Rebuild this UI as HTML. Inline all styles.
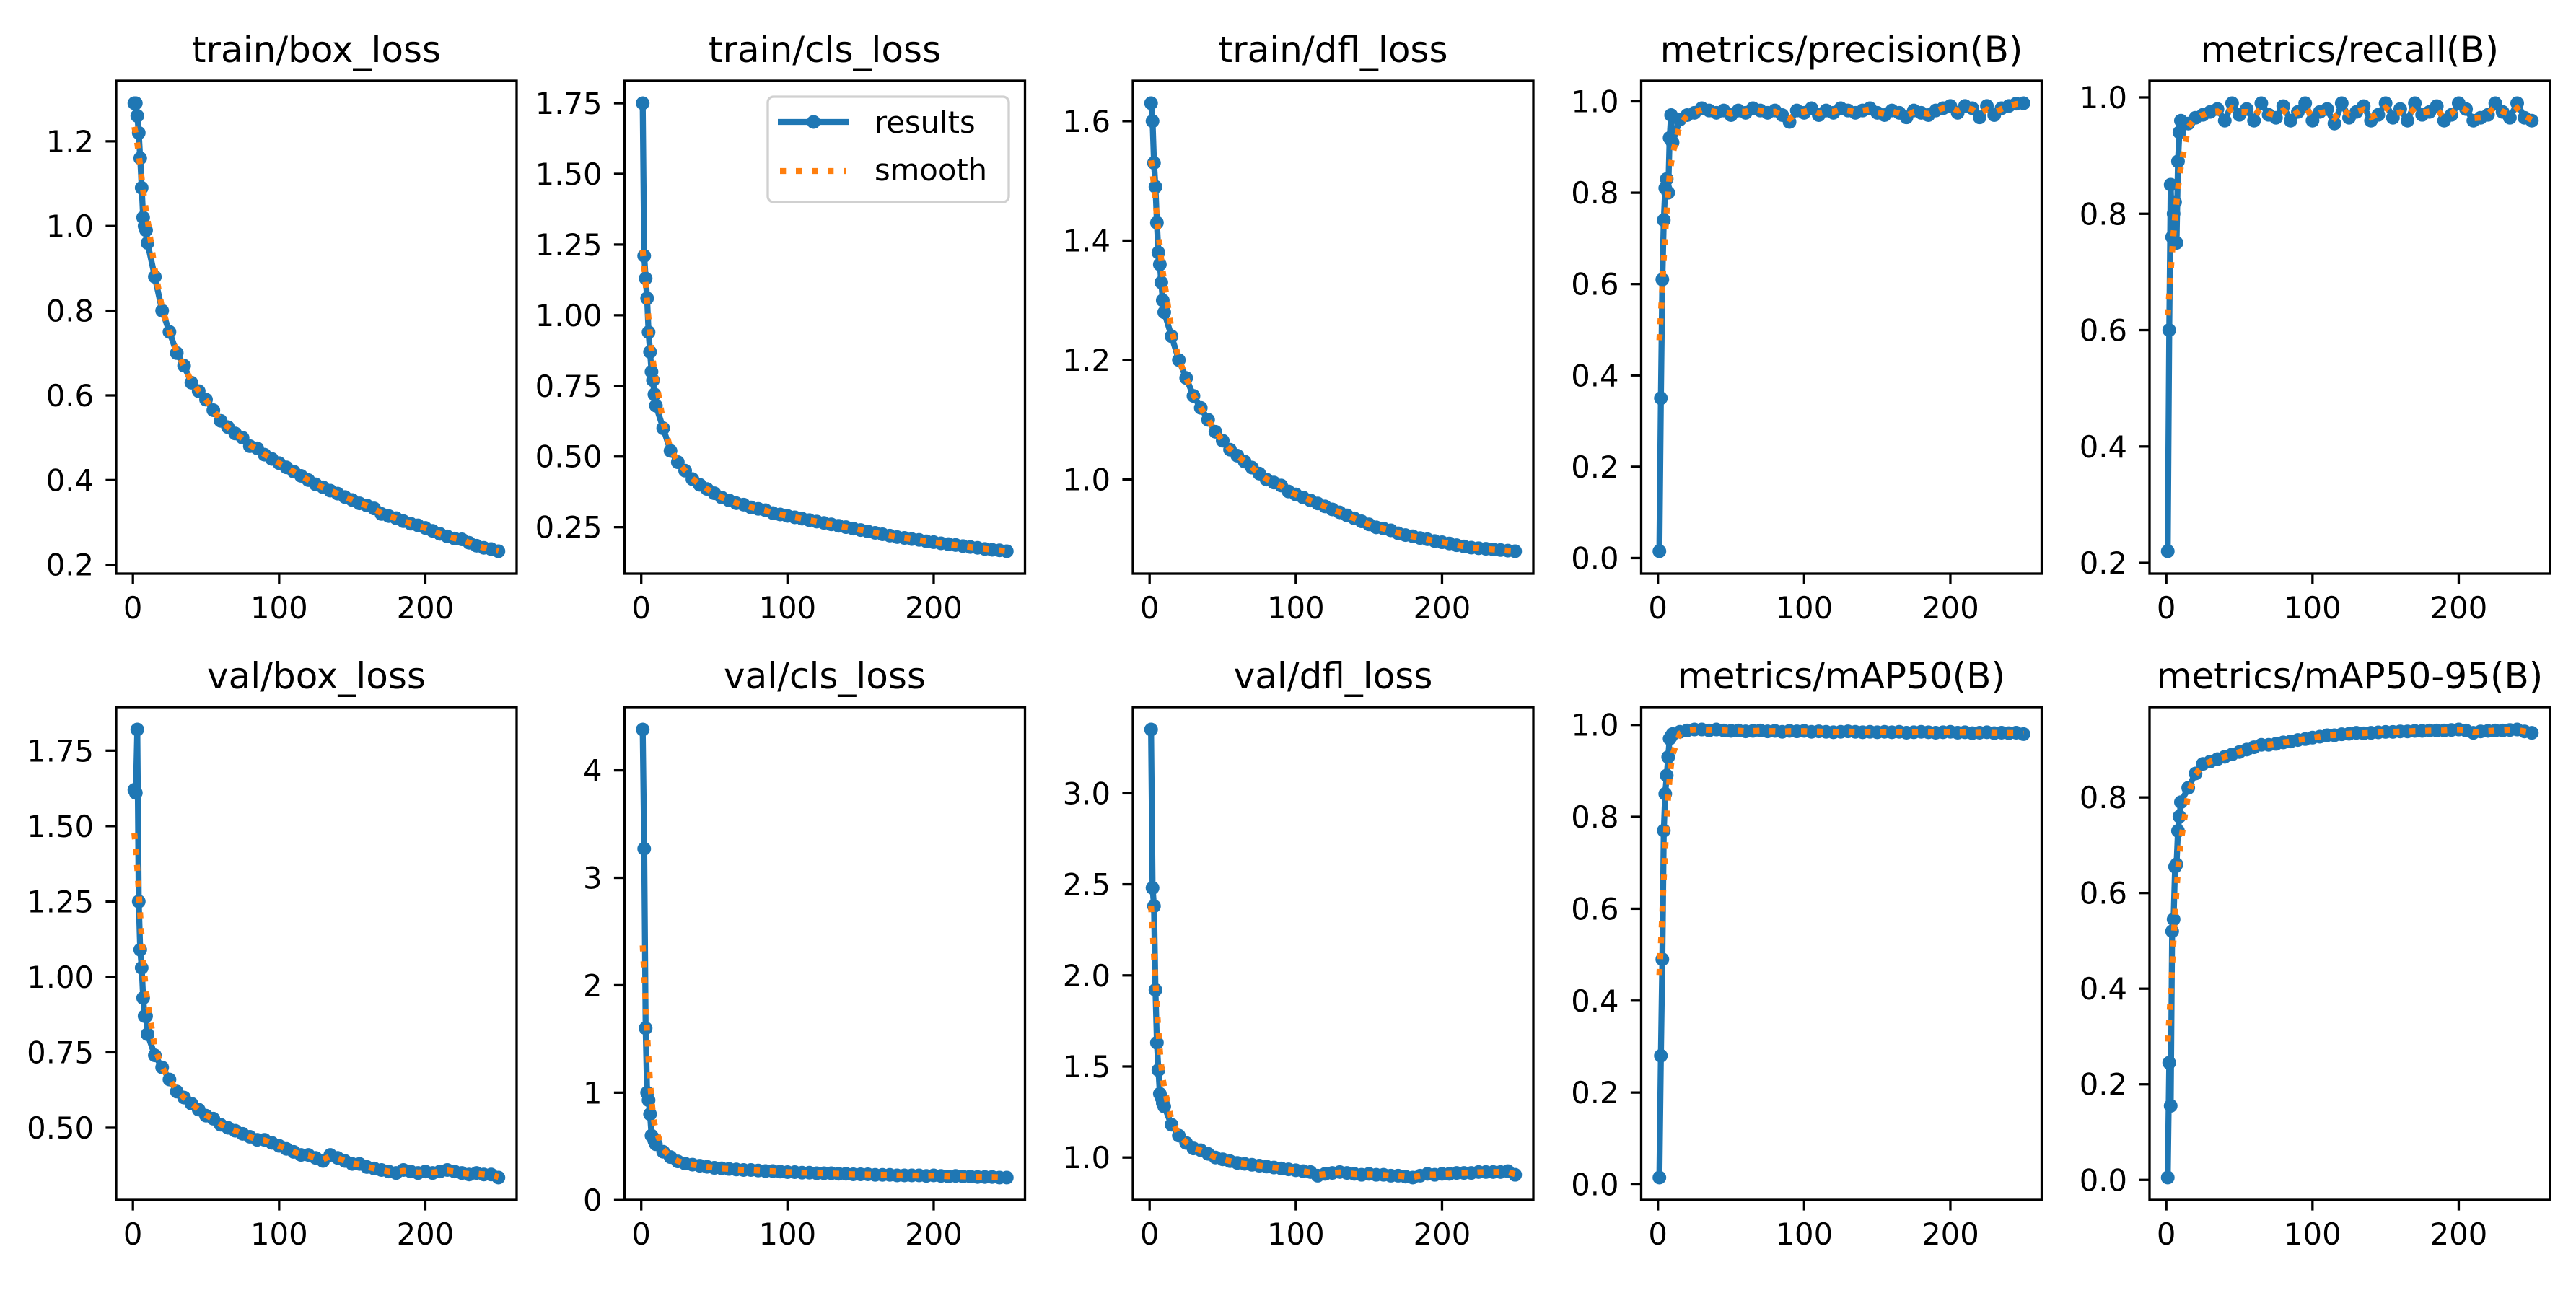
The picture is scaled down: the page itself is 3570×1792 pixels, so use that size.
<!DOCTYPE html>
<html><head><meta charset="utf-8"><style>
html,body{margin:0;padding:0;background:#fff;}
svg{display:block;}
text{font-family:"DejaVu Sans","Liberation Sans",sans-serif;fill:#000;}
</style></head><body>
<svg id="fig" width="3570" height="1792" viewBox="0 0 3570 1792" xmlns="http://www.w3.org/2000/svg"></svg>
<script>
const epochs = [1,2,3,4,5,6,7,8,9,10,15,20,25,30,35,40,45,50,55,60,65,70,75,80,85,90,95,100,105,110,115,120,125,130,135,140,145,150,155,160,165,170,175,180,185,190,195,200,205,210,215,220,225,230,235,240,245,250];
const titles = ["train/box_loss","train/cls_loss","train/dfl_loss","metrics/precision(B)","metrics/recall(B)","val/box_loss","val/cls_loss","val/dfl_loss","metrics/mAP50(B)","metrics/mAP50-95(B)"];
const trainBox = [1.29,1.29,1.26,1.22,1.16,1.09,1.02,1.0,0.99,0.96,0.88,0.80,0.75,0.70,0.67,0.63,0.61,0.59,0.565,0.54,0.525,0.51,0.50,0.48,0.475,0.46,0.45,0.44,0.43,0.42,0.41,0.40,0.39,0.383,0.375,0.368,0.36,0.353,0.345,0.34,0.333,0.32,0.315,0.31,0.303,0.297,0.293,0.287,0.28,0.273,0.267,0.262,0.26,0.252,0.245,0.24,0.237,0.232];
const trainCls = [1.75,1.21,1.13,1.06,0.94,0.87,0.80,0.77,0.72,0.68,0.60,0.52,0.48,0.45,0.42,0.40,0.385,0.37,0.355,0.345,0.335,0.33,0.32,0.315,0.31,0.30,0.295,0.29,0.285,0.28,0.275,0.27,0.265,0.26,0.255,0.25,0.245,0.24,0.235,0.23,0.225,0.22,0.215,0.212,0.208,0.205,0.20,0.197,0.193,0.19,0.187,0.183,0.18,0.177,0.173,0.17,0.168,0.165];
const trainDfl = [1.63,1.60,1.53,1.49,1.43,1.38,1.36,1.33,1.30,1.28,1.24,1.20,1.17,1.14,1.12,1.10,1.08,1.065,1.05,1.04,1.03,1.02,1.01,1.0,0.995,0.99,0.98,0.975,0.97,0.965,0.96,0.955,0.95,0.945,0.94,0.935,0.93,0.925,0.92,0.918,0.915,0.91,0.907,0.905,0.902,0.90,0.897,0.895,0.893,0.89,0.888,0.886,0.885,0.884,0.883,0.882,0.881,0.88];
const precision = [0.015,0.35,0.61,0.74,0.81,0.83,0.80,0.92,0.97,0.91,0.96,0.97,0.975,0.985,0.98,0.975,0.98,0.97,0.98,0.975,0.985,0.98,0.975,0.98,0.97,0.955,0.98,0.975,0.985,0.97,0.98,0.975,0.985,0.98,0.975,0.98,0.985,0.975,0.97,0.98,0.975,0.965,0.98,0.975,0.97,0.98,0.985,0.99,0.975,0.99,0.985,0.965,0.99,0.97,0.985,0.99,0.995,0.996];
const recall = [0.22,0.60,0.85,0.76,0.80,0.82,0.75,0.89,0.94,0.96,0.955,0.965,0.97,0.975,0.98,0.96,0.99,0.97,0.98,0.96,0.99,0.97,0.965,0.985,0.96,0.975,0.99,0.96,0.975,0.98,0.955,0.99,0.965,0.975,0.985,0.96,0.97,0.99,0.965,0.98,0.96,0.99,0.97,0.975,0.985,0.96,0.97,0.99,0.98,0.96,0.965,0.97,0.99,0.975,0.965,0.99,0.965,0.96];
const valBox = [1.62,1.61,1.82,1.25,1.09,1.03,0.93,0.87,0.87,0.81,0.74,0.70,0.66,0.62,0.60,0.58,0.56,0.54,0.53,0.51,0.50,0.49,0.48,0.47,0.46,0.46,0.45,0.44,0.43,0.42,0.41,0.41,0.40,0.39,0.41,0.40,0.39,0.38,0.38,0.37,0.365,0.36,0.355,0.35,0.36,0.355,0.35,0.355,0.35,0.355,0.36,0.355,0.35,0.345,0.35,0.345,0.345,0.335];
const valCls = [4.38,3.27,1.60,1.0,0.93,0.80,0.60,0.58,0.55,0.52,0.45,0.40,0.36,0.34,0.33,0.32,0.31,0.30,0.295,0.29,0.285,0.28,0.28,0.275,0.27,0.27,0.265,0.26,0.26,0.255,0.255,0.25,0.25,0.25,0.245,0.245,0.24,0.24,0.24,0.235,0.235,0.235,0.23,0.23,0.23,0.23,0.225,0.23,0.225,0.22,0.225,0.22,0.22,0.215,0.215,0.215,0.21,0.21];
const valDfl = [3.35,2.48,2.38,1.92,1.63,1.48,1.35,1.33,1.30,1.28,1.18,1.12,1.08,1.05,1.04,1.02,1.0,0.99,0.98,0.97,0.965,0.96,0.955,0.95,0.945,0.94,0.935,0.93,0.925,0.92,0.90,0.91,0.915,0.92,0.915,0.91,0.905,0.91,0.905,0.905,0.90,0.90,0.895,0.89,0.90,0.91,0.905,0.91,0.91,0.915,0.915,0.915,0.92,0.92,0.92,0.92,0.925,0.905];
const map50 = [0.015,0.28,0.49,0.77,0.85,0.89,0.93,0.97,0.975,0.98,0.985,0.988,0.99,0.99,0.988,0.99,0.988,0.987,0.988,0.986,0.987,0.988,0.986,0.987,0.985,0.987,0.986,0.987,0.985,0.986,0.985,0.984,0.985,0.986,0.985,0.984,0.985,0.984,0.985,0.984,0.985,0.983,0.984,0.985,0.984,0.983,0.984,0.985,0.983,0.984,0.982,0.983,0.984,0.982,0.983,0.982,0.983,0.98];
const map5095 = [0.005,0.245,0.155,0.52,0.545,0.655,0.66,0.73,0.76,0.79,0.82,0.85,0.87,0.875,0.88,0.885,0.89,0.895,0.90,0.905,0.91,0.91,0.912,0.915,0.917,0.92,0.922,0.925,0.927,0.93,0.93,0.932,0.933,0.935,0.934,0.935,0.936,0.937,0.937,0.938,0.938,0.939,0.939,0.94,0.94,0.94,0.941,0.942,0.94,0.935,0.938,0.939,0.94,0.94,0.941,0.942,0.938,0.935];
const seriesList = [trainBox,trainCls,trainDfl,precision,recall,valBox,valCls,valDfl,map50,map5095];
const yTickLabels = [
  ["0.2","0.4","0.6","0.8","1.0","1.2"],
  ["0.25","0.50","0.75","1.00","1.25","1.50","1.75"],
  ["1.0","1.2","1.4","1.6"],
  ["0.0","0.2","0.4","0.6","0.8","1.0"],
  ["0.2","0.4","0.6","0.8","1.0"],
  ["0.50","0.75","1.00","1.25","1.50","1.75"],
  ["0","1","2","3","4"],
  ["1.0","1.5","2.0","2.5","3.0"],
  ["0.0","0.2","0.4","0.6","0.8","1.0"],
  ["0.0","0.2","0.4","0.6","0.8"]
];
const xTickLabels = ["0","100","200"];

const NS = "http://www.w3.org/2000/svg";
const fig = document.getElementById("fig");
const BLUE = "#1f77b4", ORANGE = "#ff7f0e";
const colLeft = [161, 865.5, 1570, 2274.5, 2979];
const rowTop = [112, 980];
const W = 555, H = 683;

function mk(tag, attrs, parent) {
  const e = document.createElementNS(NS, tag);
  for (const k in attrs) e.setAttribute(k, attrs[k]);
  parent.appendChild(e);
  return e;
}
function smoothSeries(xs, ys) {
  const sigma = 3;
  return ys.map((_, i) => {
    let s = 0, w = 0;
    for (let j = 0; j < ys.length; j++) {
      const d = xs[j] - xs[i];
      if (Math.abs(d) > 4 * sigma) continue;
      const g = Math.exp(-d * d / (2 * sigma * sigma));
      s += g * ys[j]; w += g;
    }
    return s / w;
  });
}

seriesList.forEach((ys, p) => {
  const left = colLeft[p % 5], top = rowTop[Math.floor(p / 5)];
  const g = mk("g", {}, fig);
  
  
  const xmin0 = Math.min(...epochs), xmax0 = Math.max(...epochs);
  const xm = (xmax0 - xmin0) * 0.05;
  const xLo = xmin0 - xm, xHi = xmax0 + xm;
  const ymin0 = Math.min(...ys), ymax0 = Math.max(...ys);
  const ym = (ymax0 - ymin0) * 0.05;
  const yLo = ymin0 - ym, yHi = ymax0 + ym;
  const sx = v => left + (v - xLo) / (xHi - xLo) * W;
  const sy = v => top + H - (v - yLo) / (yHi - yLo) * H;

  const t = mk("text", {x: left + W / 2, y: top - 26, "font-size": 50, "text-anchor": "middle"}, g);
  t.textContent = titles[p];
  
  

  // x ticks
  xTickLabels.forEach(lab => {
    const x = sx(parseFloat(lab));
    mk("line", {x1: x, x2: x, y1: top + H, y2: top + H + 14.6, stroke: "#000", "stroke-width": 3.3}, g);
    const tx = mk("text", {x: x, y: top + H + 62, "font-size": 41.7, "text-anchor": "middle"}, g);
    tx.textContent = lab;
    
    
  });
  // y ticks
  yTickLabels[p].forEach(lab => {
    const y = sy(parseFloat(lab));
    mk("line", {x1: left - 14.6, x2: left, y1: y, y2: y, stroke: "#000", "stroke-width": 3.3}, g);
    const ty = mk("text", {x: left - 31, y: y + 15, "font-size": 41.7, "text-anchor": "end"}, g);
    ty.textContent = lab;
    
    
  });

  const clip = mk("clipPath", {id: "clip" + p}, g);
  mk("rect", {x: left, y: top, width: W, height: H}, clip);
  const plot = mk("g", {"clip-path": "url(#clip" + p + ")"}, g);

  const pts = epochs.map((e, i) => sx(e).toFixed(1) + "," + sy(ys[i]).toFixed(1)).join(" ");
  const line = mk("polyline", {points: pts, fill: "none", stroke: BLUE, "stroke-width": 8.3, "stroke-linejoin": "round", "stroke-linecap": "round"}, plot);
  
  
  epochs.forEach((e, i) => {
    const c = mk("circle", {cx: sx(e), cy: sy(ys[i]), r: 9.5, fill: BLUE}, plot);
    
    
  });
  const sm = smoothSeries(epochs, ys);
  const spts = epochs.map((e, i) => sx(e).toFixed(1) + "," + sy(sm[i]).toFixed(1)).join(" ");
  const sl = mk("polyline", {points: spts, fill: "none", stroke: ORANGE, "stroke-width": 8.3, "stroke-dasharray": "8.3 13.7"}, plot);
  
  

  const frame = mk("rect", {x: left, y: top, width: W, height: H, fill: "none", stroke: "#000", "stroke-width": 3.3}, g);
  
  

  if (p === 1) {
    const lg = mk("g", {}, g);
    
    
    mk("rect", {x: 1064, y: 134, width: 334, height: 146, rx: 8, fill: "#fff", "fill-opacity": 0.8, stroke: "#d0d0d0", "stroke-width": 3.3}, lg);
    mk("line", {x1: 1078, x2: 1177, y1: 169, y2: 169, stroke: BLUE, "stroke-width": 8.3}, lg);
    mk("circle", {cx: 1127.5, cy: 169, r: 9.5, fill: BLUE}, lg);
    mk("line", {x1: 1081, x2: 1172, y1: 237, y2: 237, stroke: ORANGE, "stroke-width": 8.3, "stroke-dasharray": "8.3 13.7"}, lg);
    const l1 = mk("text", {x: 1212, y: 184, "font-size": 41.7}, lg);
    l1.textContent = "results";
    
    
    const l2 = mk("text", {x: 1212, y: 250, "font-size": 41.7}, lg);
    l2.textContent = "smooth";
    
    
  }
});
</script>
</body></html>
